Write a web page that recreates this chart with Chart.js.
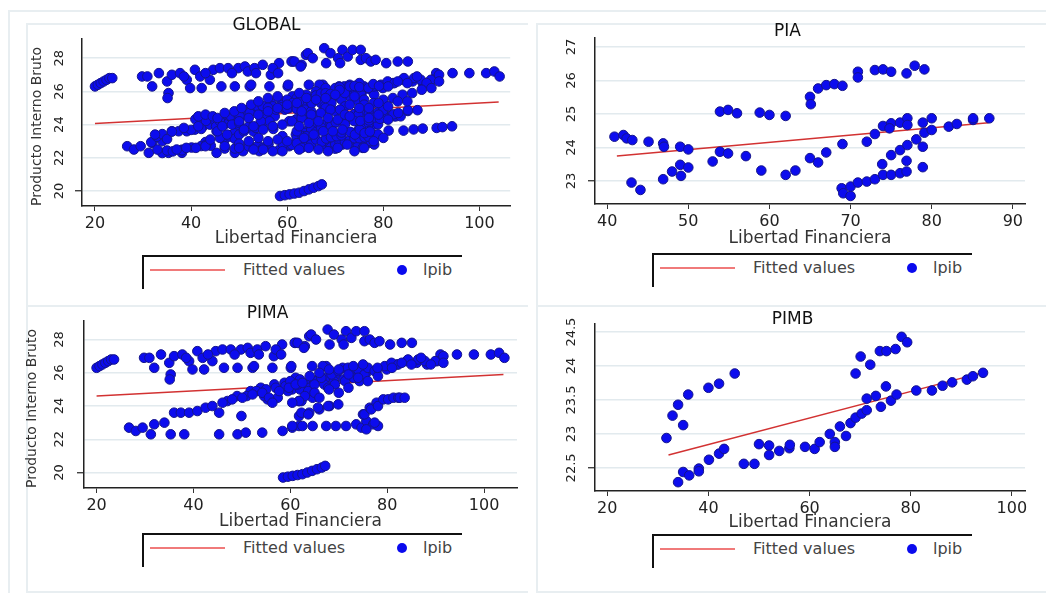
<!DOCTYPE html>
<html>
<head>
<meta charset="utf-8">
<script src="https://cdn.jsdelivr.net/npm/chart.js@4"></script>
<style>
body { margin: 0; background: #fff; width: 1046px; height: 593px; overflow: hidden; position: relative; font-family: 'DejaVu Sans', sans-serif; }
canvas { position: absolute; }
.frame { position: absolute; border-left: 2px solid #e8eef1; border-top: 2px solid #e8eef1; }
.legend { position: absolute; width: 318px; height: 32px; border-left: 2px solid #111; border-top: 2px solid #111; background: #fff; }
.legend .ln { position: absolute; left: 6px; top: 12px; width: 75px; height: 2px; background: #f07a7a; }
.legend .t1, .legend .t2 { position: absolute; top: 4px; font-size: 16px; line-height: 18px; color: #444; white-space: nowrap; }
.legend .t1 { left: 99px; }
.legend .dot { position: absolute; left: 253px; top: 8px; width: 10px; height: 10px; border-radius: 50%; background: #0a0aee; }
.legend .t2 { left: 279px; }
</style>
</head>
<body>
<div class="frame" style="left:8px;top:10px;width:1040px;height:590px"></div>
<div class="frame" style="left:26px;top:23px;width:500px;height:280px"></div>
<div class="frame" style="left:536px;top:23px;width:512px;height:280px"></div>
<div class="frame" style="left:26px;top:305px;width:500px;height:284px;border-bottom:2px solid #e8eef1"></div>
<div class="frame" style="left:536px;top:305px;width:512px;height:284px;border-bottom:2px solid #e8eef1"></div>
<script>
// Texts
const xTitle = 'Libertad Financiera';
const yTitle = 'Producto Interno Bruto';
const legendLabels = ['Fitted values', 'lpib'];

// Tick labels
const xTicksWide = [20, 40, 60, 80, 100];
const xTicksPia = [40, 50, 60, 70, 80, 90];
const yTicksGlobal = [20, 22, 24, 26, 28];
const yTicksPia = [23, 24, 25, 26, 27];
const yTicksPimb = [22.5, 23, 23.5, 24, 24.5];

// lpib vs Libertad Financiera, PIA countries
const piaPts = [
  [40.9,24.32],[42,24.37],[42.4,24.27],[43.1,24.22],[45.1,24.17],[46.9,24.12],[47,24.02],[49,24.02],[50,23.94],
  [43,22.95],[44.1,22.73],[46.9,23.05],[48,23.28],[49,23.48],[49.1,23.15],[50,23.4],[53,23.58],[53.9,23.87],
  [54.9,23.82],[57.1,23.74],[53.9,25.07],[54.9,25.12],[56,25.02],[58.8,25.04],[60,24.97],[62,24.94],
  [59,23.31],[62,23.18],[63.2,23.31],[65,23.68],[66,23.55],[67,23.85],[69,24.1],
  [65,25.51],[65.1,25.29],[66,25.76],[67,25.86],[68,25.89],[69,25.84],[70.9,26.26],[70.9,26.09],
  [73,26.31],[74,26.33],[75,26.26],[76.9,26.21],[77.9,26.44],[79.1,26.33],
  [68.9,22.78],[69.1,22.63],[70,22.55],[70,22.83],[70.9,22.95],[72,22.98],[73,23.05],[74,23.18],[75,23.18],
  [76.1,23.23],[76.9,23.28],[78.9,23.41],[73.9,23.5],[75,23.77],[76.1,23.92],[77,24.07],[78.1,24.24],[78.9,24.02],
  [72,24.17],[73,24.4],[74,24.64],[75,24.72],[76.1,24.74],[77,24.87],[77,24.67],[74.8,24.57],[78.9,24.74],
  [79.1,24.44],[80,24.52],[80,24.87],[76.9,23.6],[82.1,24.62],[83.1,24.7],[85.1,24.82],[85.1,24.87],[87.1,24.87]
];

// PIMA countries
const pimaPts = [
  [20,26.3],[20.6,26.4],[21.2,26.5],[21.8,26.6],[22.4,26.7],[23,26.8],[23.6,26.8],
  [29.8,26.9],[30.9,26.9],[33.3,27.1],[31.9,26.3],[35,26.6],[35.3,25.9],[35.1,25.6],[36,27],[37.7,27.1],
  [39.1,26.7],[39.8,26.2],[40.8,27.3],[42.2,26.2],[41.9,26.9],[43.9,26.7],[44.6,27.3],[46,27.4],[46.3,26.3],
  [47.7,27.4],[49.1,26.3],[49.8,27.4],[51.2,27.5],[52.2,26.3],[51.8,27.2],[53.2,27.4],[54.9,27.6],[56.3,26.3],
  [56.6,27],[58.3,27.7],[60.1,26.3],[61.1,27.8],[38.5,26.9],[43,27.1],[48.5,27.1],[53.5,27.1],[57,27.4],
  [60.9,27.8],[63,27.6],[58.1,27.1],[52.5,26.4],[60.2,26.4],[67.4,26.4],
  [61.5,27.8],[63.9,28.2],[64.3,28.3],[65.3,28],[67.7,28.6],[68.1,27.7],[69,28.3],[70.6,28],[71.5,28.5],[71,27.7],
  [72.6,28.1],[73.6,28.5],[75.3,28.5],[75.3,27.9],[76.4,28],[77.4,27.8],[78.4,27.9],[80.6,27.7],[83,27.8],[85.1,27.8],[62.8,27.5],
  [91,27.1],[94.4,27.1],[97.9,27.1],[101.4,27.1],[103.1,27.2],[104.2,26.9],
  [66.7,26.4],[67.4,25.7],[69.4,25.9],[70.8,26.3],[72.9,26.1],[74.3,25.5],[75.7,26],[77.8,26.1],[79.9,26.2],
  [82,26.5],[84,26.7],[86.1,26.6],[88.2,26.5],[90.3,26.7],[61.1,25.7],[60.4,25],[61.8,24.3],[63.2,25.3],
  [64.6,24.5],[64.5,26.4],[65,25.5],[67,25.3],[69,25.5],[71,25.6],[73,25.7],[62,25],[64,25.1],
  [51.8,24.9],[53.9,25.1],[55.3,24.4],[56.7,25.3],[58.8,25.4],[54.6,24.6],[57.4,24.5],[59.5,24.9],[61.6,25.3],
  [62.3,24.3],[63.7,24.9],[65,25.3],[66.4,25.7],[67.8,25.1],[68.5,25.9],[69.9,26.1],[71.9,26.3],[74,26.2],
  [75.3,25.9],[76,26.3],[77.4,26.1],[79.5,26.4],[80.9,26.6],[82.3,26.5],[84.3,26.8],[86.4,26.8],[87.8,26.7],
  [89.9,26.7],[91.6,27],[91.6,26.6],[69.2,25.3],[71.3,25.5],[74,25.7],[76,25.5],[78.1,25.8],
  [47,24.3],[49,24.6],[51,24.6],[53,24.9],[55,25],[57,25.1],[59,25.2],[60,25.5],[62,25.6],[64,25.8],
  [66,26],[68,26.2],[70,26.2],[72,25.9],[73,26.4],[75,26.5],[78,26.3],[81,26.3],[83,26.6],[85,26.5],[87,26.9],[89,26.5],
  [63,24.6],[65,24.8],[66,24.5],[68,25],[70,24.8],[72,25.1],
  [46,24.2],[48,24.4],[50.1,24.5],[52.2,24.7],[54.2,24.8],[55.6,24.5],[56.3,24.2],[57.7,24.9],[59.7,25.1],
  [61.1,25.3],[62.5,25.4],[61.8,24.3],
  [36,23.6],[37.4,23.6],[39.1,23.6],[40.8,23.7],[42.5,23.9],[43.9,24],[45.3,23.6],
  [26.7,22.7],[28.1,22.5],[29.5,22.7],[31.2,22.3],[31.9,22.9],[34,23],[35.3,22.3],[38.1,22.3],[45.3,22.3],
  [49.1,22.3],[50.8,22.4],[54.2,22.4],[49.9,23.4],[58.4,22.5],[60.4,22.7],[61.8,22.8],
  [60.4,24.2],[61.8,23.4],[63.9,23.6],[66,23.8],[68.1,24],[62.3,23.6],[63.7,23.5],[65.7,23.9],[67.8,24],[69.9,24.1],
  [60.4,22.8],[62.5,22.8],[64.6,22.8],[67.4,22.8],[69.4,22.8],[71.5,22.8],[73.6,22.9],[74.7,22.7],[75.7,23.1],
  [77.1,22.9],[78.1,22.8],[77.4,23],[75.7,22.6],[75,23.5],[75.3,23.5],[76.4,23.9],[76.7,23.8],[77.8,24.2],
  [78.1,24],[79.2,24.4],[80.2,24.4],[81.3,24.5],[82.3,24.5],[82.6,24.5],[83.6,24.5],
  [58.5,19.7],[59.5,19.75],[60.5,19.8],[61.5,19.85],[62.5,19.9],[63.5,20],[64.5,20.1],[65.5,20.2],[66.5,20.3],[67.2,20.4]
];

// PIMB countries
const pimbPts = [
  [31.7,22.94],[32.9,23.27],[34,23.43],[35,23.13],[36,23.58],[40,23.68],[42.1,23.74],[45.2,23.89],
  [34,22.29],[35,22.44],[36.2,22.39],[38.1,22.49],[38.1,22.45],[40.1,22.62],[42.1,22.71],[43.1,22.78],
  [47,22.56],[49.1,22.56],[50,22.85],[52,22.83],[52,22.69],[54,22.75],[56,22.79],[56.1,22.84],[59.1,22.81],
  [61,22.78],[62,22.88],[64,23],[65,22.88],[65,22.81],[66,23.11],[67.2,22.97],[68.1,23.16],[69.1,23.24],
  [70.3,23.3],[71.3,23.35],[71.3,23.52],[73.1,23.56],[74.1,23.4],[75.1,23.7],[76.1,23.49],[77.2,23.58],
  [81.1,23.64],[84.2,23.64],[86.3,23.71],[88.2,23.76],[91.1,23.8],[92.3,23.85],[94.3,23.9],
  [69.1,23.89],[70.1,24.14],[72,24.02],[73.9,24.22],[75.2,24.22],[77,24.25],[78.2,24.43],[79.3,24.35]
];

// observations seen only in the GLOBAL panel (groups not plotted separately)
const otherPts = [
  [32.5,23.4],[38.5,23.8],[41.5,23.9],[46,24.2],[33,22.5],[37,22.5],[39,22.6],[41,22.6],[43,22.7],
  [47,22.7],[50,22.6],[53,22.5],[55,22.6],[57,22.4],[44,23.1],[46,23.2],[47.5,23.4],
  [41.5,24.5],[43,24.6],[44.5,24.5],[45.5,24.4],[47,24.7],[49,24.8],[50.5,25],[52.5,25.2],[54,25.4],[56,25.6],[58,25.7],
  [45.5,23.6],[46.5,23.9],[48.5,24],[50,24.1],[51,23.6],[52,23.9],[53.5,23.8],[54.5,24.2],
  [50,24.2],[52,24.4],[54,24.6],[56,24.8],[58,25],[60,25.2],[62,25.3],[51,23.7],[53,23.9],[55,23.7],[57,23.9],
  [59,24],[61,24.2],[63,24.4],[52,23],[54,23.2],[56,23],[58,23.1],[60,23],[62,23.6],[64,23.3],[55,22.5],[59,22.4],[63,22.6],
  [62.5,25.9],[64,25.6],[66,25.5],[68,25.6],[70,25.8],[63,24.8],[65,24.6],[67,24.7],[69,24.9],[71,24.9],
  [62.5,23.9],[64.5,24.1],[66.5,24.2],[68.5,24.4],[70.5,24.3],[72,24.6],[63.5,23.2],[65.5,23.4],[67.5,23.6],
  [69.5,23.6],[71.5,23.7],[62.5,22.5],[64.5,22.6],[66.5,22.5],[68.5,22.4],[70.5,22.6],[72.5,22.8],[74,22.4],
  [76,22.6],[78,23],[80,23.2],[77,24.4],[79,24.6],[81,24.3],[76,25.2],[78,25.3],[80,25.5],[82,25.6],
  [84,25.8],[86,25.9],[88,26.1],[90,26.2],[73,24.5],[73,25.2],[75,25],[77,25],[79,25.3],[81,25.1],[83,25.4],[85,25.4]
];

const globalPts = pimaPts.concat(piaPts, pimbPts, otherPts);

// Fitted values (end points of each regression line)
const globalFit = [[20,24.07],[104,25.36]];
const piaFit = [[41.2,23.74],[87,24.74]];
const pimaFit = [[20,24.6],[104,25.9]];
const pimbFit = [[32.1,22.69],[94.6,23.91]];

const panels = [
  { title: 'GLOBAL', pts: globalPts, fit: globalFit, xRange: [17.3, 106.4], yRange: [19.1, 29.2],
    xTicks: xTicksWide, yTicks: yTicksGlobal, showYTitle: true,
    box: { left: 18, top: 12, right: 516, bottom: 250 }, area: { left: 82, top: 38, right: 515, bottom: 206 },
    titleY: 25, yTitleX: 37, yTickX: 60, xTitleY: 239, legend: { left: 142, top: 255 } },
  { title: 'PIA', pts: piaPts, fit: piaFit, xRange: [38.5, 91.5], yRange: [22.31, 27.29],
    xTicks: xTicksPia, yTicks: yTicksPia, showYTitle: false,
    box: { left: 550, top: 12, right: 1040, bottom: 250 }, area: { left: 595, top: 37, right: 1025, bottom: 204 },
    titleY: 31, yTitleX: 0, yTickX: 572, xTitleY: 239, legend: { left: 652, top: 253 } },
  { title: 'PIMA', pts: pimaPts, fit: pimaFit, xRange: [17.4, 106.8], yRange: [19.07, 29.16],
    xTicks: xTicksWide, yTicks: yTicksGlobal, showYTitle: true,
    box: { left: 18, top: 296, right: 570, bottom: 532 }, area: { left: 84, top: 320, right: 517, bottom: 488 },
    titleY: 313, yTitleX: 32, yTickX: 60, xTitleY: 522, legend: { left: 142, top: 533 } },
  { title: 'PIMB', pts: pimbPts, fit: pimbFit, xRange: [17.57, 102.6], yRange: [22.16, 24.63],
    xTicks: xTicksWide, yTicks: yTicksPimb, showYTitle: false,
    box: { left: 560, top: 296, right: 1056, bottom: 532 }, area: { left: 595, top: 323, right: 1025, bottom: 491 },
    titleY: 319, yTitleX: 0, yTickX: 572, xTitleY: 523, legend: { left: 652, top: 534 } }
];

const FONT = "'DejaVu Sans', sans-serif";

// y tick labels are written sideways, reading upward
const sidewaysYTicks = {
  id: 'sidewaysYTicks',
  afterDraw(chart, args, opts) {
    const s = chart.scales.y;
    const ctx = chart.ctx;
    ctx.save();
    ctx.font = '13px ' + FONT;
    ctx.fillStyle = '#222';
    ctx.textAlign = 'center';
    ctx.textBaseline = 'middle';
    s.ticks.forEach(t => {
      ctx.save();
      ctx.translate(opts.x, s.getPixelForValue(t.value));
      ctx.rotate(-Math.PI / 2);
      ctx.fillText(String(t.value), 0, 0);
      ctx.restore();
    });
    ctx.restore();
  }
};

function makeChart(p) {
  const w = p.box.right - p.box.left;
  const h = p.box.bottom - p.box.top;
  const cv = document.createElement('canvas');
  cv.width = w; cv.height = h;
  cv.style.left = p.box.left + 'px';
  cv.style.top = p.box.top + 'px';
  cv.style.width = w + 'px';
  cv.style.height = h + 'px';
  document.body.appendChild(cv);

  return new Chart(cv, {
    type: 'scatter',
    plugins: [sidewaysYTicks],
    data: {
      datasets: [{
        label: legendLabels[1],
        data: p.pts.map(([x, y]) => ({ x, y })),
        backgroundColor: 'rgb(12,12,238)',
        borderColor: 'rgb(20,20,140)',
        borderWidth: 1,
        pointRadius: 4.8
      }, {
        type: 'line',
        label: legendLabels[0],
        data: p.fit.map(([x, y]) => ({ x, y })),
        showLine: true,
        borderColor: 'rgb(210,50,50)',
        borderWidth: 1.5,
        pointRadius: 0,
        fill: false
      }]
    },
    options: {
      responsive: false,
      animation: false,
      devicePixelRatio: 1,
      layout: { padding: { left: 0, top: 0, bottom: 0, right: p.box.right - p.area.right } },
      plugins: {
        legend: { display: false },
        tooltip: { enabled: false },
        sidewaysYTicks: { x: p.yTickX - p.box.left },
        title: {
          display: true,
          text: p.title,
          color: '#111',
          font: { family: FONT, size: 17, weight: 'normal', lineHeight: 0.25 },
          padding: { top: p.titleY - p.box.top - 2, bottom: p.area.top - p.titleY - 2 }
        }
      },
      scales: {
        x: {
          min: p.xRange[0], max: p.xRange[1],
          afterBuildTicks: s => { s.ticks = p.xTicks.map(v => ({ value: v })); },
          afterFit: s => { s.height = p.box.bottom - p.area.bottom; },
          border: { color: '#222', width: 1.5 },
          grid: { drawOnChartArea: false, tickLength: 5, color: '#333', lineWidth: 1 },
          ticks: { color: '#222', padding: 5, maxRotation: 0, autoSkip: false,
                   font: { family: FONT, size: 16, lineHeight: 1 }, callback: v => String(v) },
          title: { display: true, text: xTitle, color: '#333',
                   font: { family: FONT, size: 17, lineHeight: 1 },
                   padding: { top: 0, bottom: p.box.bottom - p.xTitleY - 8.5 } }
        },
        y: {
          min: p.yRange[0], max: p.yRange[1],
          afterBuildTicks: s => { s.ticks = p.yTicks.map(v => ({ value: v })); },
          afterFit: s => { s.width = p.area.left - p.box.left; },
          border: { color: '#222', width: 1.5 },
          grid: { color: '#e2eaee', lineWidth: 1.5, tickLength: 7,
                  tickColor: c => c.index === 0 ? '#222' : 'rgba(0,0,0,0)', tickWidth: 1.2 },
          ticks: { display: false },
          title: { display: p.showYTitle, text: yTitle, color: '#333', align: 'start',
                   font: { family: FONT, size: 14, lineHeight: 1 },
                   padding: { top: p.yTitleX - p.box.left - 7, bottom: 0 } }
        }
      }
    }
  });
}

function makeLegend(p) {
  const box = document.createElement('div');
  box.className = 'legend';
  box.style.left = p.legend.left + 'px';
  box.style.top = p.legend.top + 'px';
  box.innerHTML = '<div class="ln"></div><div class="t1">' + legendLabels[0] +
    '</div><div class="dot"></div><div class="t2">' + legendLabels[1] + '</div>';
  document.body.appendChild(box);
}

panels.forEach(p => { makeChart(p); makeLegend(p); });
</script>
</body>
</html>
